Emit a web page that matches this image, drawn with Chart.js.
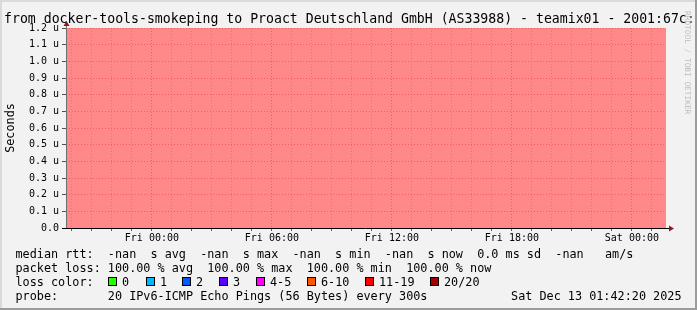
<!DOCTYPE html>
<html>
<head>
<meta charset="utf-8">
<script src="https://cdn.jsdelivr.net/npm/chart.js@4.4.1/dist/chart.umd.min.js"></script>
<style>
  html, body { margin: 0; padding: 0; background: #f2f2f2; }
  canvas { display: block; }
</style>
</head>
<body>
<canvas id="smokeChart" width="697" height="310"></canvas>
<script>
// Time axis is in clock hours counted from Thursday 00:00
const windowStart = 19 + 42 / 60 + 20 / 3600; // Thu 19:42:20
const windowEnd = windowStart + 30;             // Sat 01:42:20

const xTickHours = [24, 30, 36, 42, 48];
const xTickLabels = ["Fri 00:00", "Fri 06:00", "Fri 12:00", "Fri 18:00", "Sat 00:00"];

const yTickLabels = [
    "0.0", "0.1 u", "0.2 u", "0.3 u", "0.4 u", "0.5 u", "0.6 u",
    "0.7 u", "0.8 u", "0.9 u", "1.0 u", "1.1 u", "1.2 u",
];

// Every probe in the window was lost
const sampleHours = [windowStart, windowEnd];
const lossPercent = [100, 100];

const lossColorLabels = ["0", "1", "2", "3", "4-5", "6-10", "11-19", "20/20"];
const lossColors = ["#26ff00", "#00b8ff", "#0059ff", "#5e00ff", "#ff00ff", "#ff5500", "#ff0000", "#a10000"];

const titleText = "from docker-tools-smokeping to Proact Deutschland GmbH (AS33988) - teamix01 - 2001:67c:";
const medianLine = "median rtt:  -nan  s avg  -nan  s max  -nan  s min  -nan  s now  0.0 ms sd  -nan   am/s";
const lossLine = "packet loss: 100.00 % avg  100.00 % max  100.00 % min  100.00 % now";
const probeLine = "probe:       20 IPv6-ICMP Echo Pings (56 Bytes) every 300s";
const stampText = "Sat Dec 13 01:42:20 2025";

const MONO = "'DejaVu Sans Mono', monospace";
const MGRID = "rgba(225, 60, 60, 0.55)";
const GRID = "rgba(150, 90, 90, 0.35)";

// rrdtool style frame, texts, axis lines and arrows
const rrdDecor = {
    id: "rrdDecor",
    beforeDraw(chart) {
        const ctx = chart.ctx;
        ctx.save();
        ctx.fillStyle = "#f2f2f2";
        ctx.fillRect(0, 0, chart.width, chart.height);
        ctx.fillStyle = "#dadada";
        ctx.fillRect(0, 0, chart.width, 2);
        ctx.fillRect(0, 0, 2, chart.height);
        ctx.fillStyle = "#9c9c9c";
        ctx.fillRect(chart.width - 2, 0, 2, chart.height);
        ctx.fillRect(0, chart.height - 2, chart.width, 2);
        ctx.restore();
    },
    afterDraw(chart) {
        const ctx = chart.ctx;
        const area = chart.chartArea;
        ctx.save();

        // axes
        ctx.lineWidth = 1;
        ctx.strokeStyle = "#707070";
        ctx.beginPath();
        ctx.moveTo(area.left + 0.5, area.bottom);
        ctx.lineTo(area.left + 0.5, area.top - 3);
        ctx.stroke();
        ctx.strokeStyle = "#000000";
        ctx.beginPath();
        ctx.moveTo(area.left - 4, area.bottom + 0.5);
        ctx.lineTo(area.right + 3, area.bottom + 0.5);
        ctx.stroke();

        ctx.fillStyle = "#8b1c1c";
        ctx.beginPath();
        ctx.moveTo(area.left + 0.5, area.top - 7);
        ctx.lineTo(area.left + 3.5, area.top - 2);
        ctx.lineTo(area.left - 2.5, area.top - 2);
        ctx.closePath();
        ctx.fill();
        ctx.beginPath();
        ctx.moveTo(area.right + 8, area.bottom + 0.5);
        ctx.lineTo(area.right + 3, area.bottom - 2.5);
        ctx.lineTo(area.right + 3, area.bottom + 3.5);
        ctx.closePath();
        ctx.fill();

        // title
        ctx.fillStyle = "#000000";
        ctx.textBaseline = "alphabetic";
        ctx.textAlign = "left";
        ctx.font = "13.2px " + MONO;
        ctx.fillText(titleText, 4, 23);

        // y axis title
        ctx.save();
        ctx.font = "11.8px " + MONO;
        ctx.translate(10.5, (area.top + area.bottom) / 2);
        ctx.rotate(-Math.PI / 2);
        ctx.textAlign = "center";
        ctx.textBaseline = "middle";
        ctx.fillText("Seconds", 0, 0);
        ctx.restore();

        // watermark
        ctx.save();
        ctx.font = "7.8px " + MONO;
        ctx.fillStyle = "#bdbdbd";
        ctx.translate(685, 11);
        ctx.rotate(Math.PI / 2);
        ctx.textAlign = "left";
        ctx.textBaseline = "alphabetic";
        ctx.fillText("RRDTOOL / TOBI OETIKER", 0, 0);
        ctx.restore();

        // legend
        ctx.font = "11.8px " + MONO;
        ctx.fillText(medianLine, 15.5, 257.5);
        ctx.fillText(lossLine, 15.5, 271.7);
        ctx.fillText("loss color:", 15.5, 285.9);
        ctx.fillText(probeLine, 15.5, 300.1);
        ctx.textAlign = "right";
        ctx.fillText(stampText, 681.5, 300.1);
        ctx.textAlign = "left";

        const boxX = [108, 146, 182, 219, 256, 307, 365, 430];
        lossColorLabels.forEach((label, i) => {
            ctx.fillStyle = lossColors[i];
            ctx.fillRect(boxX[i], 277, 9, 9);
            ctx.strokeStyle = "#000000";
            ctx.strokeRect(boxX[i] + 0.5, 277.5, 8, 8);
            ctx.fillStyle = "#000000";
            ctx.fillText(label, boxX[i] + 14, 285.9);
        });

        ctx.restore();
    },
};

new Chart(document.getElementById("smokeChart"), {
    type: "line",
    data: {
        datasets: [
            {
                label: "loss",
                data: sampleHours.map((h, i) => ({ x: h, y: lossPercent[i] })),
                yAxisID: "loss",
                backgroundColor: "#ff8888",
                borderWidth: 0,
                pointRadius: 0,
                fill: "origin",
                tension: 0,
            },
        ],
    },
    options: {
        responsive: false,
        animation: false,
        devicePixelRatio: 1,
        layout: { padding: { left: 0, top: 28, right: 31, bottom: 68 } },
        plugins: {
            legend: { display: false },
            title: { display: false },
            tooltip: { enabled: false },
        },
        scales: {
            x: {
                type: "linear",
                min: windowStart,
                max: windowEnd,
                afterBuildTicks: (scale) => {
                    const ticks = [];
                    for (let h = Math.ceil(windowStart); h <= windowEnd; h++) {
                        ticks.push({ value: h, major: xTickHours.includes(h) });
                    }
                    scale.ticks = ticks;
                },
                afterFit: (scale) => { scale.height = 14; },
                ticks: {
                    autoSkip: false,
                    maxRotation: 0,
                    padding: 1,
                    color: "#000000",
                    font: { family: MONO, size: 10 },
                    callback: (value) => {
                        const i = xTickHours.indexOf(value);
                        return i >= 0 ? xTickLabels[i] : "";
                    },
                },
                grid: {
                    z: 1,
                    color: (ctx) => (ctx.tick && ctx.tick.major ? MGRID : GRID),
                    tickColor: "#606060",
                    tickLength: 3,
                },
                border: { display: false, dash: [1, 2] },
            },
            y: {
                min: 0,
                max: 1.2,
                afterFit: (scale) => { scale.width = 66; },
                ticks: {
                    stepSize: 0.1,
                    padding: 3,
                    color: "#000000",
                    font: { family: MONO, size: 10 },
                    callback: (value, index) => yTickLabels[index],
                },
                grid: {
                    z: 1,
                    color: MGRID,
                    tickColor: "#505050",
                    tickLength: 4,
                },
                border: { display: false, dash: [1, 2] },
            },
            loss: {
                display: false,
                min: 0,
                max: 100,
            },
        },
    },
    plugins: [rrdDecor],
});
</script>
</body>
</html>
